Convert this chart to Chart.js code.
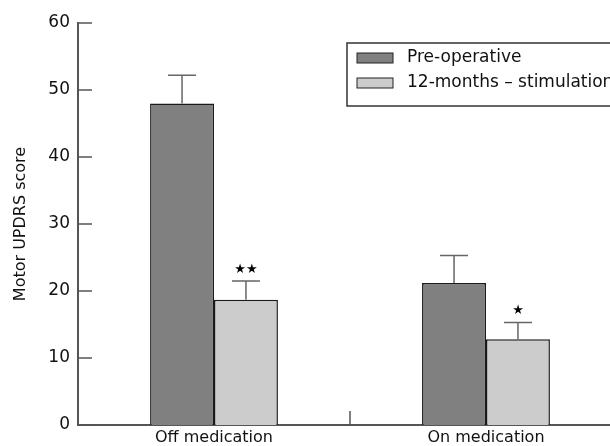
<!DOCTYPE html>
<html>
<head>
<meta charset="utf-8">
<script src="https://cdn.jsdelivr.net/npm/chart.js@4.4.0/dist/chart.umd.min.js"></script>
<style>
  html, body { margin: 0; padding: 0; background: #fff; overflow: hidden; }
  #wrap { width: 630px; height: 446px; }
</style>
</head>
<body>
<div id="wrap"><canvas id="chart"></canvas></div>
<script>
const categories = ['Off medication', 'On medication'];
const preOp = [48.0, 21.2];
const preOpErr = [4.2, 4.1];
const stim = [18.7, 12.8];
const stimErr = [2.8, 2.5];
const stimStars = ['★★', '★'];
const yTicks = [0, 10, 20, 30, 40, 50, 60];

const FONT = "'DejaVu Sans', sans-serif";
const AXIS = '#555';

// error bars, stars, inward ticks and the boxed legend
const extras = {
  id: 'extras',
  afterDatasetsDraw(chart) {
    const ctx = chart.ctx;
    const x = chart.scales.x, y = chart.scales.y;
    const errs = [preOpErr, stimErr];
    ctx.save();
    ctx.strokeStyle = '#666';
    ctx.lineWidth = 1.5;
    chart.data.datasets.forEach((ds, i) => {
      chart.getDatasetMeta(i).data.forEach((bar, j) => {
        const top = y.getPixelForValue(ds.data[j]);
        const end = y.getPixelForValue(ds.data[j] + errs[i][j]);
        ctx.beginPath();
        ctx.moveTo(bar.x, top);
        ctx.lineTo(bar.x, end);
        ctx.moveTo(bar.x - 14, end);
        ctx.lineTo(bar.x + 14, end);
        ctx.stroke();
        if (i === 1) {
          ctx.fillStyle = '#000';
          ctx.font = '13px ' + FONT;
          ctx.textAlign = 'center';
          ctx.textBaseline = 'bottom';
          ctx.fillText(stimStars[j], bar.x, end - 5);
        }
      });
    });

    // inward y ticks
    ctx.strokeStyle = AXIS;
    ctx.lineWidth = 1.5;
    yTicks.forEach(v => {
      const py = y.getPixelForValue(v);
      ctx.beginPath();
      ctx.moveTo(x.left, py);
      ctx.lineTo(x.left + 14, py);
      ctx.stroke();
    });
    // category separator tick
    const mid = (x.getPixelForValue(0) + x.getPixelForValue(1)) / 2;
    ctx.beginPath();
    ctx.moveTo(mid, y.bottom);
    ctx.lineTo(mid, y.bottom - 14);
    ctx.stroke();

    // legend box
    const lx = 347, ly = 43;
    ctx.strokeStyle = '#333';
    ctx.lineWidth = 1.5;
    ctx.strokeRect(lx, ly, 300, 63);
    ctx.font = '17px ' + FONT;
    ctx.textAlign = 'left';
    ctx.textBaseline = 'middle';
    chart.data.datasets.forEach((ds, i) => {
      const ry = ly + 10 + i * 25;
      ctx.fillStyle = ds.backgroundColor;
      ctx.fillRect(lx + 10, ry, 36, 10);
      ctx.strokeStyle = '#222';
      ctx.lineWidth = 1;
      ctx.strokeRect(lx + 10, ry, 36, 10);
      ctx.fillStyle = '#111';
      ctx.fillText(ds.label, lx + 60, ry + 5);
    });
    ctx.restore();
  }
};

new Chart(document.getElementById('chart'), {
  type: 'bar',
  data: {
    labels: categories,
    datasets: [
      {
        label: 'Pre-operative',
        data: preOp,
        backgroundColor: '#808080',
        borderColor: '#1a1a1a',
        borderWidth: 1.5,
        barPercentage: 1,
        categoryPercentage: 0.47,
      },
      {
        label: '12-months – stimulation',
        data: stim,
        backgroundColor: '#cccccc',
        borderColor: '#1a1a1a',
        borderWidth: 1.5,
        barPercentage: 1,
        categoryPercentage: 0.47,
      },
    ],
  },
  options: {
    responsive: true,
    maintainAspectRatio: false,
    animation: false,
    layout: { padding: { left: 0, right: 8, top: 23, bottom: 0 } },
    plugins: { legend: { display: false }, tooltip: { enabled: false } },
    scales: {
      x: {
        grid: { display: false, drawTicks: false },
        border: { display: true, color: AXIS, width: 2 },
        ticks: { color: '#111', font: { family: FONT, size: 16 }, padding: 3, maxRotation: 0 },
        afterFit(scale) { scale.height = 21; },
      },
      y: {
        min: 0,
        max: 60,
        afterBuildTicks(scale) { scale.ticks = yTicks.map(v => ({ value: v })); },
        grid: { display: false, drawTicks: false },
        border: { display: true, color: AXIS, width: 2 },
        ticks: { color: '#111', font: { family: FONT, size: 17 }, padding: 8 },
        title: {
          display: true,
          text: 'Motor UPDRS score',
          color: '#111',
          font: { family: FONT, size: 16 },
          padding: { top: 11, bottom: 0 },
        },
        afterFit(scale) { scale.width = 78; },
      },
    },
  },
  plugins: [extras],
});
</script>
</body>
</html>
